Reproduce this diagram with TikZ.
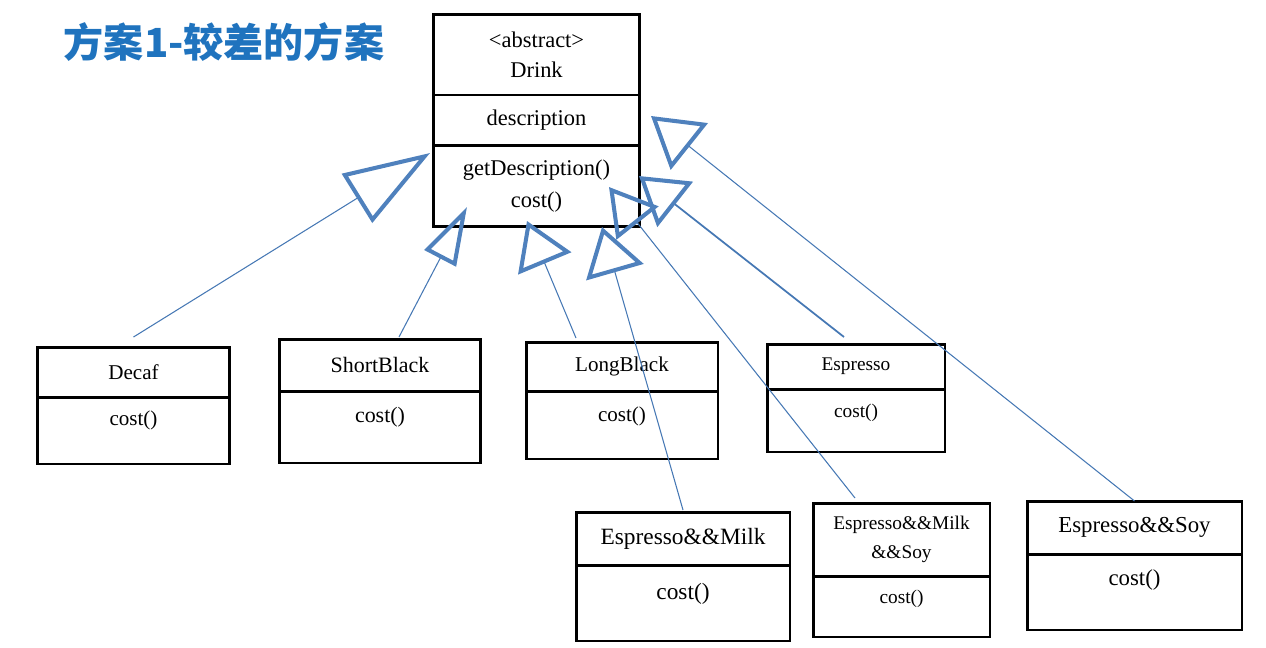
\documentclass[tikz,border=0pt]{standalone}
\usepackage{fontspec}
\setmainfont{Liberation Serif}
\newfontfamily\cjkfont{Noto Sans CJK SC}
\usetikzlibrary{positioning,arrows.meta}
\definecolor{titleblue}{RGB}{31,115,190}
\definecolor{triblue}{RGB}{79,129,189}
\definecolor{lineblue}{RGB}{70,120,180}
\tikzset{
  box/.style={draw, line width=1.7pt, inner sep=0pt, outer sep=0pt, align=center},
  sz/.style 2 args={font=\fontsize{#1}{#2}\selectfont},
  gen/.style 2 args={draw=lineblue, line width=0.6pt,
    -{Triangle[open, length=#1, width=#2, line width=2.3pt, color=triblue]}},
}
\begin{document}
\begin{tikzpicture}[x=0.02cm, y=-0.02cm]
\useasboundingbox (0,0) rectangle (1266,647);
\node[text=titleblue, font=\cjkfont\bfseries\fontsize{22.8}{26}\selectfont] (title) at (224,42) {方案1-较差的方案};
% abstract class
\node[box, sz={12.8}{17}, minimum width=4.14cm, minimum height=1.62cm] (drink) at (536.5,54.5) {<abstract>\\Drink};
\node[box, sz={12.8}{18}, minimum width=4.14cm, minimum height=1.02cm, below=0pt of drink] (drinkattr) {description};
\node[box, sz={12.8}{18.2}, minimum width=4.14cm, minimum height=1.62cm, below=0pt of drinkattr] (drinkops) {getDescription()\\cost()};
% subclasses
\node[box, sz={12}{16}, minimum width=3.86cm, minimum height=1cm] (decaf) at (133.5,372) {Decaf};
\node[box, sz={12}{16}, minimum width=3.86cm, text height=0.57cm, text depth=0.77cm, below=0pt of decaf] (decafops) {cost()};
\node[box, sz={12.5}{16}, minimum width=4.04cm, minimum height=1.04cm] (shortblack) at (380,365) {ShortBlack};
\node[box, sz={12.5}{16}, minimum width=4.04cm, text height=0.63cm, text depth=0.81cm, below=0pt of shortblack] (shortblackops) {cost()};
\node[box, sz={12}{16}, minimum width=3.84cm, minimum height=0.98cm] (longblack) at (622,366.5) {LongBlack};
\node[box, sz={12}{16}, minimum width=3.84cm, text height=0.61cm, text depth=0.75cm, below=0pt of longblack] (longblackops) {cost()};
\node[box, sz={11}{15}, minimum width=3.56cm, minimum height=0.9cm] (espresso) at (856,366.5) {Espresso};
\node[box, sz={11}{15}, minimum width=3.56cm, text height=0.56cm, text depth=0.70cm, below=0pt of espresso] (espressoops) {cost()};
\node[box, sz={13.3}{17}, minimum width=4.28cm, minimum height=1.06cm] (milk) at (683,538.5) {Espresso\&\&Milk};
\node[box, sz={13.3}{17}, minimum width=4.28cm, text height=0.68cm, text depth=0.84cm, below=0pt of milk] (milkops) {cost()};
\node[box, sz={11}{16.5}, minimum width=3.54cm, minimum height=1.46cm] (milksoy) at (901.5,539.5) {Espresso\&\&Milk\\\&\&Soy};
\node[box, sz={11}{16.5}, minimum width=3.54cm, text height=0.54cm, text depth=0.68cm, below=0pt of milksoy] (milksoyops) {cost()};
\node[box, sz={13}{17}, minimum width=4.30cm, minimum height=1.06cm] (soy) at (1134.5,527.5) {Espresso\&\&Soy};
\node[box, sz={13}{17}, minimum width=4.30cm, text height=0.63cm, text depth=0.89cm, below=0pt of soy] (soyops) {cost()};
% generalisation arrows
\coordinate (decaftip) at (430,153);
\coordinate (shortblacktip) at (467,207);
\coordinate (longblacktip) at (527,221);
\coordinate (espressotip) at (639,176);
\coordinate (milktip) at (602,227);
\coordinate (milksoytip) at (609,187);
\coordinate (soytip) at (651,116);
\draw[gen={1.72cm}{1.14cm}] ([shift={(0,-10)}]decaf.north) -- (decaftip);
\draw[gen={1.16cm}{0.70cm}] ([shift={(19,-2)}]shortblack.north) -- (shortblacktip);
\draw[gen={0.92cm}{1.14cm}] ([shift={(-46,-4)}]longblack.north) -- (longblacktip);
\draw[gen={0.92cm}{1.14cm}, line width=1pt] ([shift={(-12,-7)}]espresso.north) -- (espressotip);
\draw[gen={0.94cm}{1.18cm}] ([shift={(0,-2)}]milk.north) -- (milktip);
\draw[gen={0.92cm}{1.06cm}] ([shift={(-46.5,-5)}]milksoy.north) -- (milksoytip);
\draw[gen={0.98cm}{1.18cm}] (soy.north) -- (soytip);
\end{tikzpicture}
\end{document}
